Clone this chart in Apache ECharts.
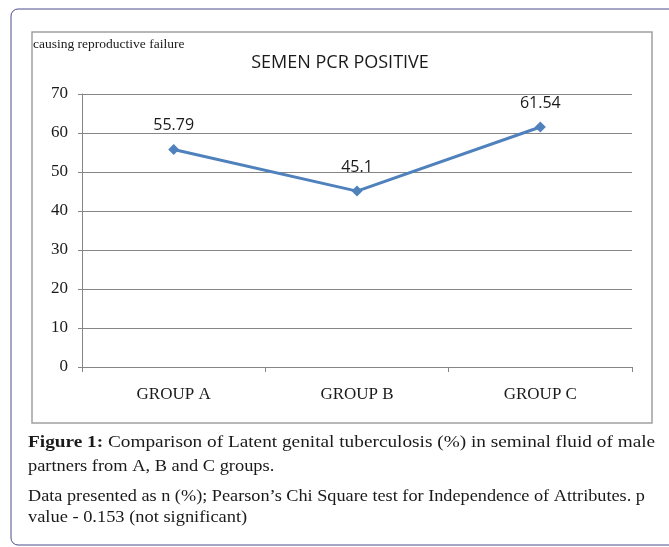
<!DOCTYPE html>
<html><head><meta charset="utf-8">
<script src="https://cdn.jsdelivr.net/npm/echarts@6/dist/echarts.min.js"></script>
<style>html,body{margin:0;padding:0;background:#fff}#c{width:669px;height:547px}</style>
</head><body><div id="c"></div>
<script>
const categories = ['GROUP A', 'GROUP B', 'GROUP C'];
const values = [55.79, 45.1, 61.54];
const valueLabels = ['55.79', '45.1', '61.54'];
const yTicks = [0, 10, 20, 30, 40, 50, 60, 70];

const chart = echarts.init(document.getElementById('c'));
const serif = '"Liberation Serif", "DejaVu Serif", serif';
const sans = '"Open Sans", "Liberation Sans", sans-serif';
function capLine(text, y, sx, rich) {
  return { type: 'text', x: 28, y: y, scaleX: sx, originX: 0, originY: 0,
    style: { text: text, font: '16px ' + serif, fill: '#1a1a1a', verticalAlign: 'middle',
      rich: rich || {} } };
}
chart.setOption({
  animation: false,
  backgroundColor: '#fff',
  title: {
    text: 'SEMEN PCR POSITIVE', left: 335, top: 49, textAlign: 'center',
    textStyle: { fontFamily: sans, fontSize: 18, fontWeight: 'normal', color: '#1a1a1a' }
  },
  grid: { left: 82, right: 37, top: 94, bottom: 180 },
  xAxis: {
    type: 'category', data: categories, boundaryGap: true,
    axisLine: { lineStyle: { color: '#868686', width: 1 } },
    axisTick: { show: true, length: 5, lineStyle: { color: '#868686' } },
    axisLabel: { fontFamily: serif, fontSize: 17, color: '#1a1a1a', margin: 19 }
  },
  yAxis: {
    type: 'value', min: yTicks[0], max: yTicks[yTicks.length - 1], interval: 10,
    axisLine: { show: true, lineStyle: { color: '#868686', width: 1 } },
    axisTick: { show: true, length: 4, lineStyle: { color: '#868686' } },
    splitLine: { lineStyle: { color: '#868686', width: 1 } },
    axisLabel: { fontFamily: serif, fontSize: 17, color: '#1a1a1a', margin: 14 }
  },
  series: [{
    type: 'line', data: values,
    symbol: 'diamond', symbolSize: 11,
    lineStyle: { color: '#4F81BD', width: 3 },
    itemStyle: { color: '#4F81BD' },
    label: {
      show: true, position: 'top', distance: 10,
      formatter: p => valueLabels[p.dataIndex],
      fontFamily: sans, fontSize: 16, color: '#1a1a1a'
    }
  }],
  graphic: [
    { type: 'rect', shape: { x: 11, y: 9, width: 720, height: 536, r: 7 },
      style: { fill: 'none', stroke: '#4b4b8c', lineWidth: 1 }, z: 0 },
    { type: 'rect', shape: { x: 32, y: 32, width: 620, height: 391 },
      style: { fill: 'none', stroke: '#a0a0a0', lineWidth: 1.5 }, z: 0 },
    { type: 'text', x: 33, y: 37,
      style: { text: 'causing reproductive failure', font: '13.5px ' + serif, fill: '#1a1a1a' } },
    capLine('{b|Figure 1:} Comparison of Latent genital tuberculosis (%) in seminal fluid of male', 443, 1.205,
      { b: { fontWeight: 'bold', fontFamily: serif, fontSize: 16 } }),
    capLine('partners from A, B and C groups.', 467, 1.15),
    capLine('Data presented as n (%); Pearson\u2019s Chi Square test for Independence of Attributes. p', 497, 1.14),
    capLine('value - 0.153 (not significant)', 518, 1.15)
  ]
});
</script></body></html>
